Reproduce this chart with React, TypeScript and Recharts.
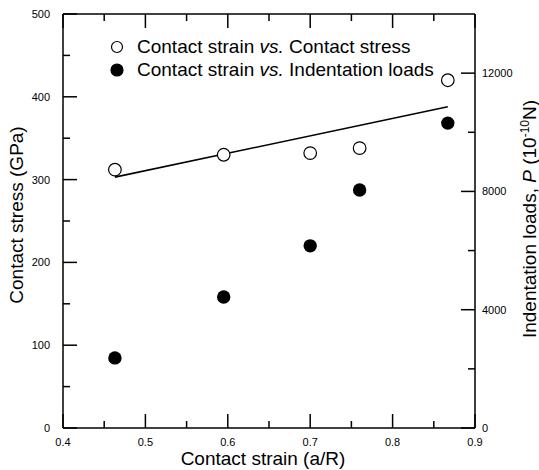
import { ComposedChart, Scatter, XAxis, YAxis, Legend, Label, ReferenceLine } from 'recharts';

const strain = [0.463, 0.595, 0.7, 0.76, 0.867];
const stressGPa = [312, 330, 332, 338, 420];
const loadP = [2370, 4430, 6160, 8050, 10310];

// linear fit drawn through the stress points
const fitStrain = [0.463, 0.867];
const fitStress = [303, 388];

const xMajor = [0.4, 0.5, 0.6, 0.7, 0.8, 0.9];
const xMinor = [0.45, 0.55, 0.65, 0.75, 0.85];
const stressMajor = [0, 100, 200, 300, 400, 500];
const stressMinor = [50, 150, 250, 350, 450];
const loadMajor = [0, 4000, 8000, 12000];
const loadMinor = [2000, 6000, 10000];

const FONT = '"Liberation Sans", Arial, Helvetica, sans-serif';
const W = 539;
const H = 470;
const AX = { stroke: '#000', strokeWidth: 1.5 };

// plot box in px, used to turn tick lengths (px) into axis units
const PLOT_W = 412;
const PLOT_H = 414;
const X0 = 0.4, X1 = 0.9, S1 = 500, L1 = 14000;
const MAJ = 14, MIN = 7;
const dx = (px: number) => (px / PLOT_W) * (X1 - X0);
const dS = (px: number) => (px / PLOT_H) * S1;

const stressData = strain.map((x, i) => ({ x, y: stressGPa[i] }));
const loadData = strain.map((x, i) => ({ x, y: loadP[i] }));
const fitData = fitStrain.map((x, i) => ({ x, y: fitStress[i] }));

const TickText = ({ x, y, payload, anchor, ddx = 0, ddy = 4 }: any) => (
  <text x={x + ddx} y={y + ddy} textAnchor={anchor} fontSize={11} fontFamily={FONT} fill="#000">
    {payload.value}
  </text>
);

const legendItems = [
  { fill: '#fff', r: 5.5, after: ' Contact stress' },
  { fill: '#000', r: 6, after: ' Indentation loads' },
];

function LegendBox() {
  return (
    <div style={{ fontFamily: FONT, fontSize: 19, color: '#000' }}>
      {legendItems.map((item, i) => (
        <div key={i} style={{ display: 'flex', alignItems: 'center', height: 23, whiteSpace: 'nowrap' }}>
          <svg width={14} height={14} style={{ marginRight: 13 }}>
            <circle cx={7} cy={7} r={item.r} fill={item.fill} stroke="#000" strokeWidth={1.2} />
          </svg>
          <span>
            Contact strain <i>vs.</i>
            {item.after}
          </span>
        </div>
      ))}
    </div>
  );
}

const OpenDot = ({ cx, cy }: any) => <circle cx={cx} cy={cy} r={6.3} fill="#fff" stroke="#000" strokeWidth={1.2} />;
const FilledDot = ({ cx, cy }: any) => <circle cx={cx} cy={cy} r={6.7} fill="#000" />;
const NoDot = () => <g />;

// inward tick marks on all four sides of the frame
function frameTicks() {
  const out: any[] = [];
  const seg = (key: string, yId: string, a: any, b: any) =>
    out.push(
      <ReferenceLine key={key} xAxisId="b" yAxisId={yId} segment={[a, b]} stroke="#000" strokeWidth={1.5} ifOverflow="visible" />
    );
  [...xMajor.map((v) => [v, MAJ]), ...xMinor.map((v) => [v, MIN])].forEach(([v, len]) => {
    seg(`xb${v}`, 'stress', { x: v, y: 0 }, { x: v, y: dS(len) });
    seg(`xt${v}`, 'stress', { x: v, y: S1 }, { x: v, y: S1 - dS(len) });
  });
  [...stressMajor.map((v) => [v, MAJ]), ...stressMinor.map((v) => [v, MIN])].forEach(([v, len]) => {
    seg(`yl${v}`, 'stress', { x: X0, y: v }, { x: X0 + dx(len), y: v });
  });
  [...loadMajor.map((v) => [v, MAJ]), ...loadMinor.map((v) => [v, MIN])].forEach(([v, len]) => {
    seg(`yr${v}`, 'load', { x: X1, y: v }, { x: X1 - dx(len), y: v });
  });
  return out;
}

export default function App() {
  return (
    <div style={{ position: 'absolute', left: 0, top: 0 }}>
      <ComposedChart width={W} height={H} margin={{ top: 0, right: 0, bottom: 0, left: 0 }}>
        <XAxis
          xAxisId="b"
          dataKey="x"
          type="number"
          domain={[X0, X1]}
          ticks={xMajor}
          interval={0}
          height={42}
          tickSize={0}
          tickMargin={0}
          tickLine={false}
          tick={<TickText anchor="middle" ddy={18} />}
          axisLine={AX}
        >
          <Label
            content={() => (
              <text x={263} y={465} textAnchor="middle" fontSize={19} fontFamily={FONT} fill="#000">
                Contact strain (a/R)
              </text>
            )}
          />
        </XAxis>
        <XAxis xAxisId="t" orientation="top" type="number" domain={[X0, X1]} ticks={xMajor} height={14}
          tickLine={false} tick={false} axisLine={AX} />
        <YAxis
          yAxisId="stress"
          dataKey="y"
          type="number"
          domain={[0, S1]}
          ticks={stressMajor}
          interval={0}
          width={63}
          tickSize={0}
          tickMargin={0}
          tickLine={false}
          tick={<TickText anchor="end" ddx={-13} />}
          axisLine={AX}
        >
          <Label
            content={() => (
              <text x={23} y={215} transform="rotate(-90 23 215)" textAnchor="middle" fontSize={19} fontFamily={FONT} fill="#000">
                Contact stress (GPa)
              </text>
            )}
          />
        </YAxis>
        <YAxis
          yAxisId="load"
          orientation="right"
          dataKey="y"
          type="number"
          domain={[0, L1]}
          ticks={loadMajor}
          interval={0}
          width={64}
          tickSize={0}
          tickMargin={0}
          tickLine={false}
          tick={<TickText anchor="start" ddx={7} />}
          axisLine={AX}
        >
          <Label
            content={() => (
              <text x={536} y={219} transform="rotate(-90 536 219)" textAnchor="middle" fontSize={19} fontFamily={FONT} fill="#000">
                Indentation loads, <tspan fontStyle="italic">P</tspan> (10
                <tspan dy={-7} fontSize={12}>-10</tspan>
                <tspan dy={7}>N)</tspan>
              </text>
            )}
          />
        </YAxis>
        {frameTicks()}
        <Legend
          layout="vertical"
          align="center"
          verticalAlign="middle"
          content={<LegendBox />}
          wrapperStyle={{ left: 110, top: 35, width: 380, height: 46 }}
        />
        <Scatter
          name="fit"
          data={fitData}
          xAxisId="b"
          yAxisId="stress"
          line={{ stroke: '#000', strokeWidth: 1.6 }}
          shape={<NoDot />}
          legendType="none"
          isAnimationActive={false}
        />
        <Scatter name="Contact stress" data={stressData} xAxisId="b" yAxisId="stress" shape={<OpenDot />} isAnimationActive={false} />
        <Scatter name="Indentation loads" data={loadData} xAxisId="b" yAxisId="load" shape={<FilledDot />} isAnimationActive={false} />
      </ComposedChart>
    </div>
  );
}
